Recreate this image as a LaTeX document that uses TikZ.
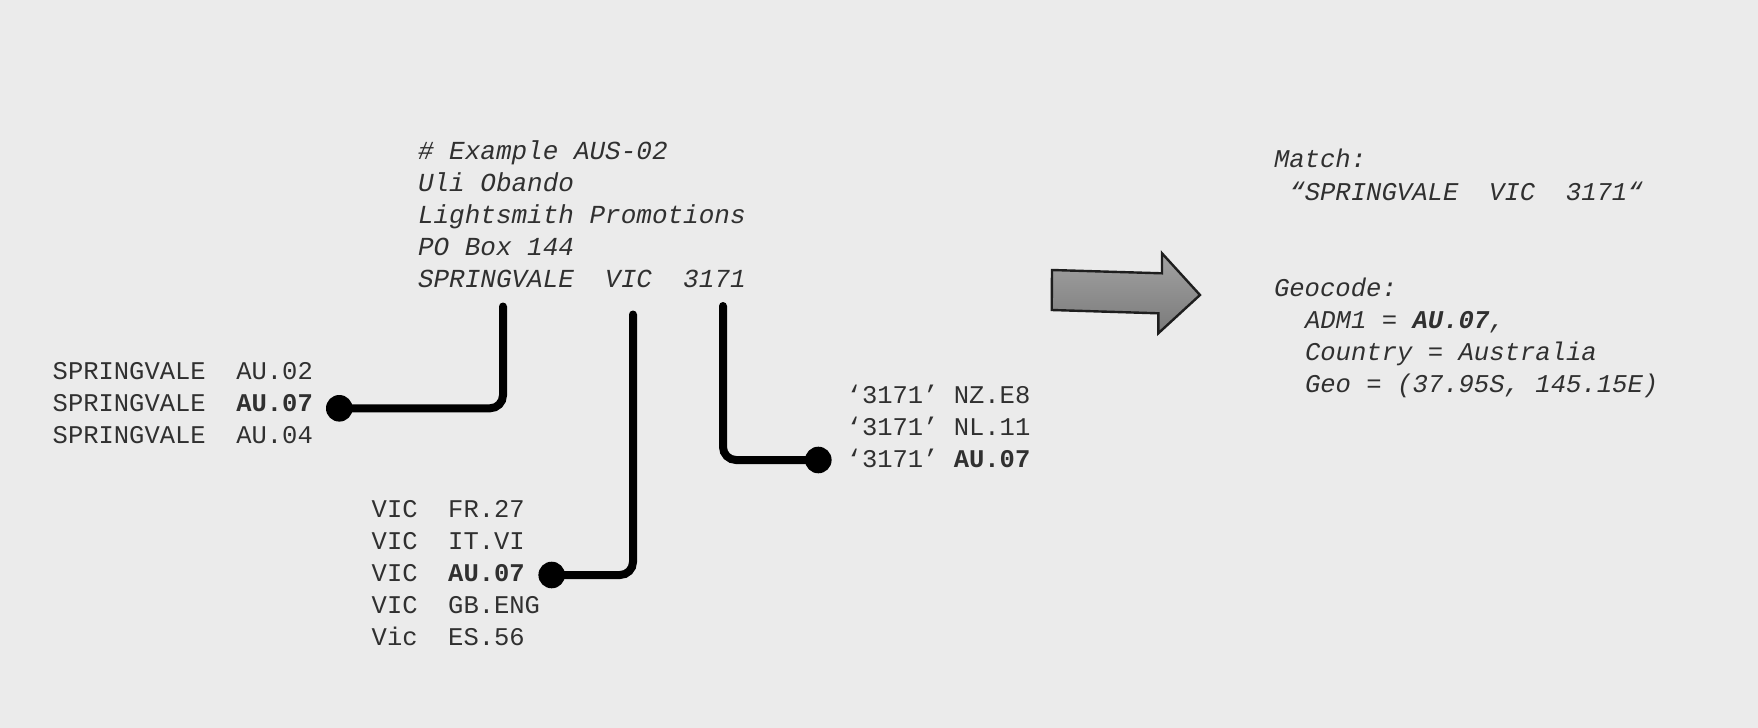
\documentclass[tikz,border=0pt]{standalone}
\usepackage{fontspec}
\newfontfamily\monofam{Liberation Mono}
\definecolor{bgcol}{HTML}{EBEBEB}
\definecolor{txtcol}{HTML}{303030}
\definecolor{arrtop}{HTML}{A2A2A2}
\definecolor{arrbot}{HTML}{7A7A7A}
\definecolor{arrline}{HTML}{1E1E1E}
\tikzset{
  txt/.style={anchor=base west, inner sep=0pt, outer sep=0pt, text=txtcol,
    font=\monofam\fontsize{12.75}{16}\selectfont},
  itx/.style={txt, font=\monofam\itshape\fontsize{13}{16}\selectfont},
  itr/.style={txt, font=\monofam\itshape\fontsize{12.8}{16}\selectfont},
  link/.style={line width=4pt, line cap=round, rounded corners=6.5pt, black},
  dotnode/.style={circle, fill=black, minimum size=13.3pt, inner sep=0pt, outer sep=0pt},
}
\begin{document}
\begin{tikzpicture}[x=0.5pt, y=-0.5pt]
\fill[bgcol] (0,0) rectangle (1758,728);
\useasboundingbox (0,0) rectangle (1758,728);

% address block
\node[itx] (a1) at (418,159) {\# Example AUS-02};
\node[itx] (a2) at (418,191) {Uli Obando};
\node[itx] (a3) at (418,223) {Lightsmith Promotions};
\node[itx] (a4) at (418,255) {PO Box 144};
\node[itx] (a5) at (418,287) {SPRINGVALE~~VIC~~3171};

% left list
\node[txt] (s1) at (52.7,379) {SPRINGVALE~~AU.02};
\node[txt] (s2) at (52.7,411) {SPRINGVALE~~\textbf{AU.07}};
\node[txt] (s3) at (52.7,443) {SPRINGVALE~~AU.04};

% VIC list
\node[txt] (v1) at (371.7,517) {VIC~~FR.27};
\node[txt] (v2) at (371.7,549) {VIC~~IT.VI};
\node[txt] (v3) at (371.7,581) {VIC~~\textbf{AU.07}};
\node[txt] (v4) at (371.7,613) {VIC~~GB.ENG};
\node[txt] (v5) at (371.7,645) {Vic~~ES.56};

% 3171 list
\node[txt] (p1) at (846.7,403) {‘3171’ NZ.E8};
\node[txt] (p2) at (846.7,435) {‘3171’ NL.11};
\node[txt] (p3) at (846.7,467) {‘3171’ \textbf{AU.07}};

% right text
\node[itr] (m1) at (1274,167) {Match:};
\node[itr] (m2) at (1289.4,200) {“SPRINGVALE~~VIC~~3171“};
\node[itr] (g1) at (1274,296) {Geocode:};
\node[itr] (g2) at (1305,328) {ADM1 = \textbf{AU.07},};
\node[itr] (g3) at (1305,360) {Country = Australia};
\node[itr] (g4) at (1305,392) {Geo = (37.95S, 145.15E)};

% connectors
\coordinate (c1) at (503,306.5);
\coordinate (c2) at (633,314.5);
\coordinate (c3) at (723,306);
\node[dotnode] (d1) at (339.3,408.3) {};
\node[dotnode] (d2) at (551.7,575) {};
\node[dotnode] (d3) at (818.3,460) {};
\draw[link] (c1) |- (d1.center);
\draw[link] (c2) |- (d2.center);
\draw[link] (c3) |- (d3.center);

% big arrow
\shade[top color=arrtop, bottom color=arrbot, draw=arrline, line width=1.2pt, line join=miter]
  (1052,270) -- (1162,273.3) -- (1162,253.3) -- (1200,295) -- (1158.3,333.3)
  -- (1158.3,313.3) -- (1051.7,310) -- cycle;
\end{tikzpicture}
\end{document}
